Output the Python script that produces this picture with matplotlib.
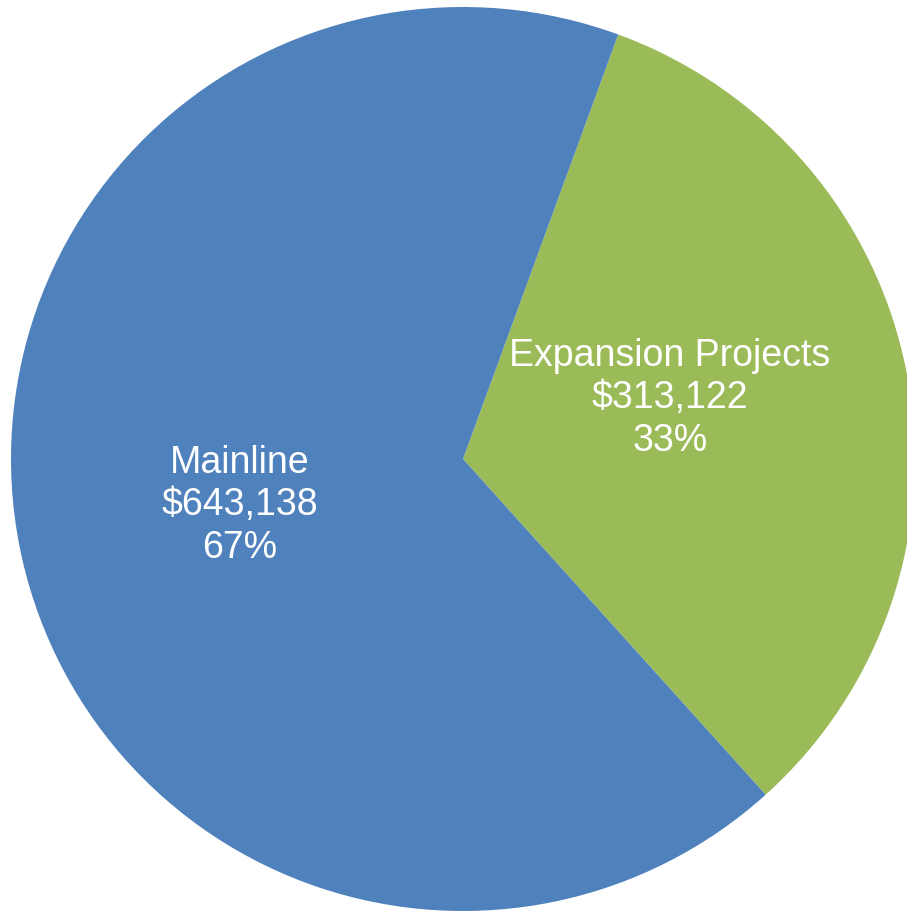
import matplotlib
matplotlib.use("Agg")
import matplotlib.pyplot as plt

categories = ["Expansion Projects", "Mainline"]
values = [313122, 643138]
colors = ["#9BBB59", "#4F81BD"]

W, H = 907, 911
fig = plt.figure(figsize=(W / 100, H / 100), dpi=100)
ax = fig.add_axes([0, 0, 1, 1])

cx, cy, r = 463, H - 459, 452
total = sum(values)
wedges, _ = ax.pie(values, colors=colors, startangle=-47.96, counterclock=True,
                   radius=r, center=(cx, cy), frame=True,
                   wedgeprops=dict(linewidth=0))
ax.set_xlim(0, W)
ax.set_ylim(0, H)
ax.set_aspect("auto")
ax.axis("off")

# baseline of the last text line for each label
label_pos = {"Expansion Projects": (670, 451), "Mainline": (240, 558)}
for cat, v in zip(categories, values):
    pct = round(v / total * 100)
    txt = f"{cat}\n${v:,}\n{pct}%"
    x, y = label_pos[cat]
    ax.text(x, H - y, txt, ha="center", va="baseline", color="white",
            fontsize=27, family=["Liberation Sans", "DejaVu Sans"],
            linespacing=1.24, multialignment="center")

fig.savefig("out.png", dpi=100)
